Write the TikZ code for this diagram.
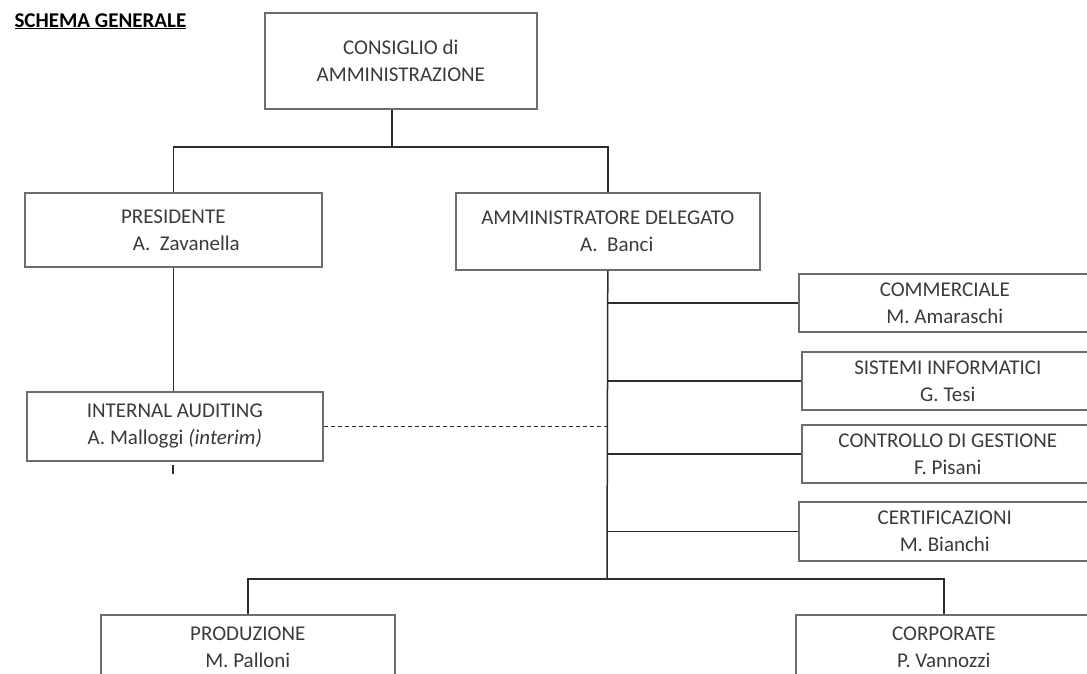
\documentclass[tikz,border=0pt]{standalone}
\usepackage{fontspec}
\setmainfont{Carlito}
\usepackage{tikz}
\definecolor{TextGray}{HTML}{3A3A3A}
\definecolor{BoxGray}{HTML}{6E6E6E}
\definecolor{LineDark}{HTML}{2C2C2C}

\begin{document}
\begin{tikzpicture}[x=1pt,y=-1pt,
  every node/.style={font=\fontsize{21}{27}\selectfont, text=TextGray},
  unit/.style={draw=BoxGray, line width=1.6pt, anchor=north west, inner sep=0pt, align=center},
  link/.style={draw=LineDark, line width=1.5pt}]
  \useasboundingbox (0,0) rectangle (1087,673);
  \clip (0,0) rectangle (1087,673);
  \node[anchor=base west, font=\fontsize{21}{27}\selectfont\bfseries, text=black] (title) at (11,27) {\underline{SCHEMA GENERALE}};
  \node[unit, minimum width=272pt, minimum height=96pt] (cda) at (264,12) {CONSIGLIO di\\AMMINISTRAZIONE};
  \node[unit, minimum width=297pt, minimum height=74pt] (pres) at (24,192) {PRESIDENTE\\\hspace*{26pt}A.~~Zavanella};
  \node[unit, minimum width=304pt, minimum height=77pt] (ad) at (455,192) {AMMINISTRATORE DELEGATO\\\hspace*{18pt}A.~~Banci};
  \node[unit, minimum width=296pt, minimum height=69pt] (audit) at (26,391) {INTERNAL AUDITING\\A. Malloggi \textit{(interim)}};
  \node[unit, minimum width=292pt, minimum height=58pt] (comm) at (798,273) {COMMERCIALE\\M. Amaraschi};
  \node[unit, minimum width=292pt, minimum height=58pt] (sist) at (801,351) {SISTEMI INFORMATICI\\G. Tesi};
  \node[unit, minimum width=292pt, minimum height=58pt] (ctrl) at (801,424) {CONTROLLO DI GESTIONE\\F. Pisani};
  \node[unit, minimum width=292pt, minimum height=59pt] (cert) at (798,501) {CERTIFICAZIONI\\M. Bianchi};
  \node[unit, minimum width=294pt, minimum height=64pt] (prod) at (100,614) {PRODUZIONE\\M. Palloni};
  \node[unit, minimum width=296pt, minimum height=64pt] (corp) at (795,614) {CORPORATE\\P. Vannozzi};
  \coordinate (fork) at (392,147);
  \coordinate (spine) at (607,579);
  \draw[link] (cda.south -| fork) -- (fork);
  \draw[link] (pres.north) |- (fork) -| (ad.north);
  \draw[link] (pres.south) -- (pres.south |- audit.north);
  \draw[link] (audit.south) ++(-2,3) -- ++(0,9);
  \draw[link] (ad.south) -- (spine);
  \foreach \unitname in {comm,sist,ctrl,cert}
    \draw[link] (\unitname.west) -- (\unitname.west -| spine);
  \draw[link, line width=1pt, dash pattern=on 4pt off 3pt] (audit.east) -- (audit.east -| spine);
  \draw[link] (prod.north) |- (spine) -| (corp.north);
\end{tikzpicture}
\end{document}
